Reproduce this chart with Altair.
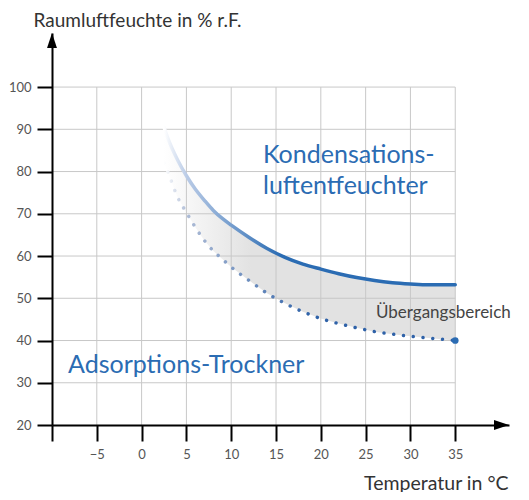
import altair as alt
import pandas as pd

# ---- data ----
temps = [2.5, 3, 4, 5, 6, 7, 8, 9, 10, 12, 14, 16, 18, 20, 22, 24, 26, 28, 30, 32, 34, 35]
kondens = [90.5, 87.5, 82.8, 79.0, 75.8, 73.2, 70.8, 68.9, 67.3, 64.4, 61.8, 59.7, 58.1,
           56.9, 55.8, 54.9, 54.2, 53.7, 53.4, 53.2, 53.2, 53.2]
adsorp = [82.0, 79.5, 74.0, 70.3, 66.8, 63.7, 61.2, 59.3, 57.4, 54.2, 51.2, 48.8, 46.8,
          45.2, 44.0, 43.0, 42.1, 41.5, 41.0, 40.6, 40.2, 40.0]
end_point_t = [35]
end_point_v = [40]

x_ticks = [-10, -5, 0, 5, 10, 15, 20, 25, 30, 35]
y_ticks = [20, 30, 40, 50, 60, 70, 80, 90, 100]
x_grid = [-5, 0, 5, 10, 15, 20, 25, 30, 35]
y_grid = [30, 40, 50, 60, 70, 80, 90, 100]

X_DOMAIN = [-10, 41]
Y_DOMAIN = [20, 112.8]
W, H = 457, 392

FONT = "Lato"
BLUE = "#2b6cb3"

df = pd.DataFrame({"T": temps, "kond": kondens, "ads": adsorp})
df_end = pd.DataFrame({"T": end_point_t, "v": end_point_v})
df_vg = pd.DataFrame({"gx": x_grid, "y0": [y_grid[0] - 10] * len(x_grid), "y1": [y_grid[-1]] * len(x_grid)})
df_hg = pd.DataFrame({"gy": y_grid, "x0": [x_ticks[0]] * len(y_grid), "x1": [x_ticks[-1]] * len(y_grid)})

x_axis = alt.Axis(
    values=x_ticks, labelExpr="datum.value == -10 ? '' : datum.label", grid=False,
    domainColor="black", domainWidth=2, tickColor="black", tickWidth=2, tickSize=16,
    labelPadding=7, labelFont=FONT, labelFontSize=13, labelColor="#555",
    title="Temperatur in °C", titleFont=FONT, titleFontSize=19.5, titleFontWeight="normal",
    titleColor="#333", titleAlign="right", titleBaseline="alphabetic", titleX=456, titleY=64,
    zindex=1,
)
y_axis = alt.Axis(
    values=y_ticks, grid=False,
    domainColor="black", domainWidth=2, tickColor="black", tickWidth=2, tickSize=15,
    labelPadding=6, labelFont=FONT, labelFontSize=13, labelColor="#555",
    title="Raumluftfeuchte in % r.F.", titleFont=FONT, titleFontSize=19,
    titleFontWeight="normal", titleColor="#333", titleAngle=0, titleAlign="left",
    titleBaseline="middle", titleX=-19, titleY=-13, zindex=1,
)
xs = alt.Scale(domain=X_DOMAIN, nice=False, zero=False)
ys = alt.Scale(domain=Y_DOMAIN, nice=False, zero=False)


def X(f):
    return alt.X(f, type="quantitative", scale=xs, axis=x_axis)


def Y(f):
    return alt.Y(f, type="quantitative", scale=ys, axis=y_axis)


def grad(stops):
    return alt.Gradient(gradient="linear", x1=0, x2=1, y1=0, y2=0,
                        stops=[alt.GradientStop(color=c, offset=o) for o, c in stops])


area = alt.Chart(df).mark_area(
    fill=grad([(0, "#ffffff"), (0.3, "#e2e2e2"), (1, "#e2e2e2")]), opacity=1
).encode(x=X("T"), y=Y("kond"), y2="ads")

vgrid = alt.Chart(df_vg).mark_rule(color="#c8c8c8", strokeWidth=1).encode(
    x=X("gx"), y=Y("y0"), y2="y1")
hgrid = alt.Chart(df_hg).mark_rule(color="#c8c8c8", strokeWidth=1).encode(
    y=Y("gy"), x=X("x0"), x2="x1")

solid = alt.Chart(df).mark_line(
    stroke=grad([(0, "#ffffff"), (0.08, "#b8cae6"), (0.4, BLUE), (1, BLUE)]),
    strokeWidth=3.5, strokeCap="round", interpolate="monotone"
).encode(x=X("T"), y=Y("kond"))

dotted = alt.Chart(df).mark_line(
    stroke=grad([(0, "#ffffff"), (0.08, "#aebcd6"), (0.5, "#2f62a8"), (1, "#2f62a8")]),
    strokeWidth=3.5, strokeCap="round", strokeDash=[0.01, 9.8], interpolate="monotone"
).encode(x=X("T"), y=Y("ads"))

end_dot = alt.Chart(df_end).mark_circle(color=BLUE, size=45, opacity=1).encode(
    x=X("T"), y=Y("v"))


def label(text, x, y, size, color, **kw):
    return alt.Chart(pd.DataFrame({"t": [text]})).mark_text(
        font=FONT, fontSize=size, color=color, align="left", baseline="alphabetic", **kw
    ).encode(text="t:N", x=alt.value(x), y=alt.value(y))


t_kond = label("Kondensations-\nluftentfeuchter", 211, 130, 25, BLUE, lineBreak="\n", lineHeight=30.5)
t_ads = label("Adsorptions-Trockner", 16, 340, 25, BLUE)
t_ueb = label("Übergangsbereich", 324, 285, 17, "#444")

arrow_x = alt.Chart(pd.DataFrame({"a": [0]})).mark_point(
    shape="M 1 0 L -1 -0.66 L -1 0.66 Z", filled=True, color="black", opacity=1, size=225
).encode(x=alt.value(W - 7.5), y=alt.value(H))
arrow_y = alt.Chart(pd.DataFrame({"a": [0]})).mark_point(
    shape="M 0 -1 L -0.66 1 L 0.66 1 Z", filled=True, color="black", opacity=1, size=225
).encode(x=alt.value(0), y=alt.value(7.5))

chart = alt.layer(
    area, vgrid, hgrid, solid, dotted, end_dot, t_kond, t_ads, t_ueb, arrow_x, arrow_y
).properties(
    width=W, height=H,
    autosize=alt.AutoSizeParams(type="none"),
    padding={"left": 44, "top": 25, "right": 12, "bottom": 67},
).configure_view(stroke=None)

chart.save("out.html", embed_options={"renderer": "svg", "actions": False})
